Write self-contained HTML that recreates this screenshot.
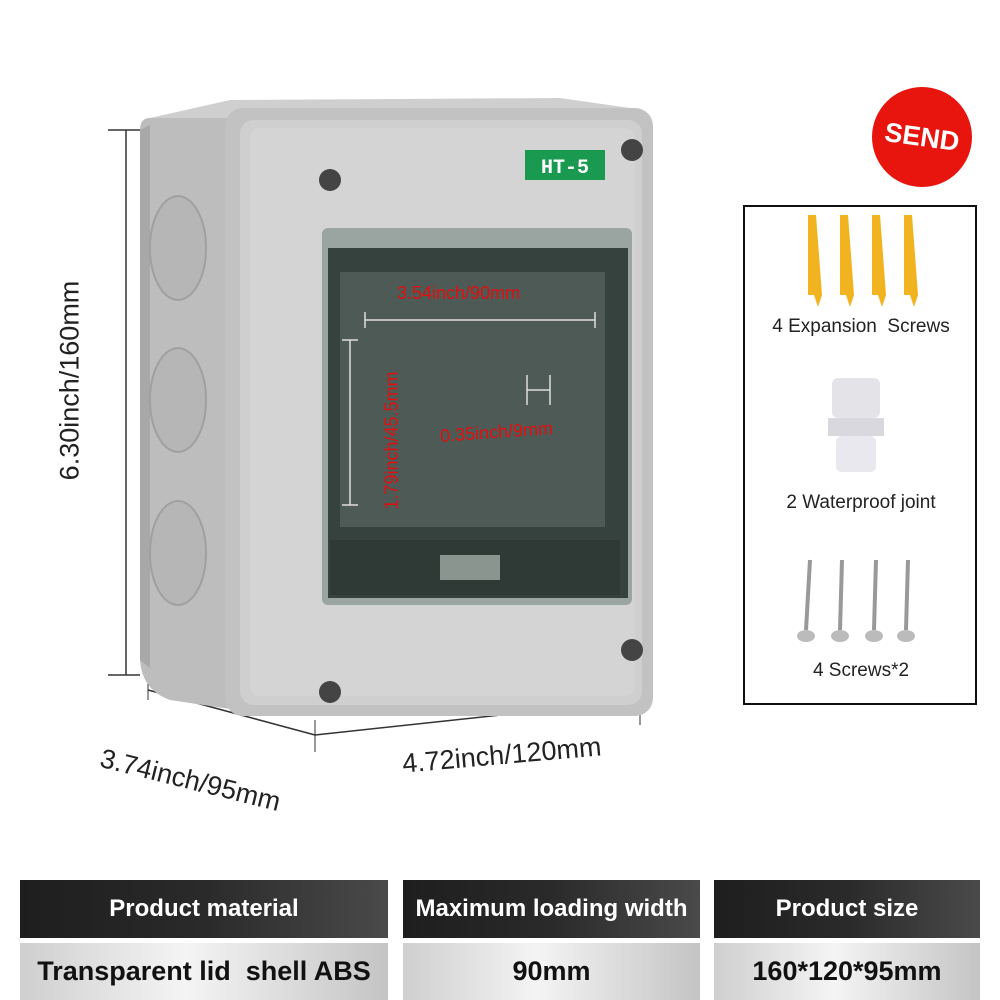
<!DOCTYPE html>
<html><head><style>
body{margin:0;width:1000px;height:1000px;background:#fff;position:relative;overflow:hidden;font-family:"Liberation Sans",sans-serif}
.a{position:absolute}
.hd{position:absolute;top:880px;height:58px;background:linear-gradient(90deg,#1e1e1e,#2a2a2a 50%,#4a4a4a);color:#fff;font-weight:bold;font-size:24px;display:flex;align-items:center;justify-content:center}
.vl{position:absolute;top:943px;height:57px;background:linear-gradient(90deg,#cfcfcf,#f4f4f4 45%,#c4c4c4);color:#111;font-weight:bold;font-size:27px;display:flex;align-items:center;justify-content:center}
.red{color:#e01010;font-size:18px;position:absolute;white-space:nowrap}
.dim{font-size:27px;color:#222;position:absolute;white-space:nowrap}
</style></head><body>
<svg class="a" style="left:0;top:0" width="1000" height="870">
<line x1="126" y1="130" x2="126" y2="675" stroke="#333" stroke-width="1.5"/>
<line x1="108" y1="130" x2="140" y2="130" stroke="#333" stroke-width="1.5"/>
<line x1="108" y1="675" x2="140" y2="675" stroke="#333" stroke-width="1.5"/>
<line x1="148" y1="678" x2="148" y2="700" stroke="#333"/>
<line x1="148" y1="690" x2="315" y2="735" stroke="#333" stroke-width="1.5"/>
<line x1="315" y1="720" x2="315" y2="752" stroke="#333"/>
<line x1="315" y1="735" x2="640" y2="700" stroke="#333" stroke-width="1.5"/>
<line x1="640" y1="680" x2="640" y2="725" stroke="#333"/>
<path d="M150 118 Q140 118 140 130 L140 660 Q142 690 170 700 L250 712 L250 110 Z" fill="#bdbdbd"/>
<path d="M140 130 L140 660 L150 668 L150 125 Z" fill="#a8a8a8"/>
<g fill="#b6b6b6" stroke="#a0a0a0" stroke-width="2">
<ellipse cx="178" cy="248" rx="28" ry="52"/><ellipse cx="178" cy="400" rx="28" ry="52"/><ellipse cx="178" cy="553" rx="28" ry="52"/>
</g>
<path d="M150 118 L230 100 L560 98 L630 108 L250 118 Z" fill="#cfcfcf"/>
<rect x="225" y="108" width="428" height="608" rx="18" fill="#c2c2c2"/>
<rect x="240" y="120" width="402" height="585" rx="14" fill="#cfcfcf"/>
<rect x="250" y="128" width="385" height="568" rx="10" fill="#d4d4d4"/>
<circle cx="330" cy="180" r="11" fill="#444"/><circle cx="632" cy="150" r="11" fill="#444"/>
<circle cx="632" cy="650" r="11" fill="#444"/><circle cx="330" cy="692" r="11" fill="#444"/>
<rect x="525" y="150" width="80" height="30" fill="#1a9a50"/>
<text x="565" y="173" font-family="Liberation Mono" font-weight="bold" font-size="20" fill="#fff" text-anchor="middle">HT-5</text>
<rect x="322" y="228" width="310" height="377" rx="6" fill="#9aa4a0"/>
<rect x="328" y="248" width="300" height="350" fill="#36423e"/>
<rect x="340" y="272" width="265" height="255" fill="#4e5a55"/>
<rect x="330" y="540" width="290" height="55" fill="#2f3a37"/>
<rect x="440" y="555" width="60" height="25" fill="#8a9590"/>
<g stroke="#ddd" stroke-width="1.5" fill="none">
<line x1="365" y1="320" x2="595" y2="320"/><line x1="365" y1="312" x2="365" y2="328"/><line x1="595" y1="312" x2="595" y2="328"/>
<line x1="350" y1="340" x2="350" y2="505"/><line x1="342" y1="340" x2="358" y2="340"/><line x1="342" y1="505" x2="358" y2="505"/>
<line x1="527" y1="375" x2="527" y2="405"/><line x1="550" y1="375" x2="550" y2="405"/><line x1="527" y1="390" x2="550" y2="390"/>
</g>
<circle cx="922" cy="137" r="50" fill="#e8140e"/>
<text x="922" y="146" font-size="27" font-weight="bold" fill="#fff" text-anchor="middle" transform="rotate(8 922 137)">SEND</text>
<rect x="744" y="206" width="232" height="498" fill="none" stroke="#111" stroke-width="2"/>
<g fill="#f2b320">
<path d="M808 215 l8 0 l6 80 l-4 12 l-4 -12 l-6 0 z"/><path d="M840 215 l8 0 l6 80 l-4 12 l-4 -12 l-6 0 z"/>
<path d="M872 215 l8 0 l6 80 l-4 12 l-4 -12 l-6 0 z"/><path d="M904 215 l8 0 l6 80 l-4 12 l-4 -12 l-6 0 z"/>
</g>
<rect x="832" y="378" width="48" height="40" rx="6" fill="#e4e4e8"/>
<rect x="828" y="418" width="56" height="18" fill="#d8d8de"/>
<rect x="836" y="436" width="40" height="36" rx="6" fill="#e8e8ee"/>
<g stroke="#999" stroke-width="4">
<line x1="810" y1="560" x2="806" y2="630"/><line x1="842" y1="560" x2="840" y2="630"/>
<line x1="876" y1="560" x2="874" y2="630"/><line x1="908" y1="560" x2="906" y2="630"/>
</g>
<g fill="#bbb"><ellipse cx="806" cy="636" rx="9" ry="6"/><ellipse cx="840" cy="636" rx="9" ry="6"/><ellipse cx="874" cy="636" rx="9" ry="6"/><ellipse cx="906" cy="636" rx="9" ry="6"/></g>
</svg>
<div class="dim" style="left:-30px;top:365px;transform:rotate(-90deg);width:200px;text-align:center">6.30inch/160mm</div>
<div class="dim" style="left:98px;top:765px;transform:rotate(14deg)">3.74inch/95mm</div>
<div class="dim" style="left:402px;top:740px;transform:rotate(-5deg)">4.72inch/120mm</div>
<div class="red" style="left:397px;top:283px">3.54inch/90mm</div>
<div class="red" style="left:440px;top:422px;transform:rotate(-4deg)">0.35inch/9mm</div>
<div class="red" style="left:302px;top:430px;transform:rotate(-90deg);width:180px;text-align:center">1.79inch/45.5mm</div>
<div class="a" style="left:744px;top:316px;width:234px;text-align:center;font-size:19px;color:#222">4 Expansion&nbsp; Screws</div>
<div class="a" style="left:744px;top:492px;width:234px;text-align:center;font-size:19px;color:#222">2 Waterproof joint</div>
<div class="a" style="left:744px;top:660px;width:234px;text-align:center;font-size:19px;color:#222">4 Screws*2</div>
<div class="hd" style="left:20px;width:368px">Product material</div>
<div class="hd" style="left:403px;width:297px">Maximum loading width</div>
<div class="hd" style="left:714px;width:266px">Product size</div>
<div class="vl" style="left:20px;width:368px">Transparent lid&nbsp; shell ABS</div>
<div class="vl" style="left:403px;width:297px">90mm</div>
<div class="vl" style="left:714px;width:266px">160*120*95mm</div>
</body></html>
